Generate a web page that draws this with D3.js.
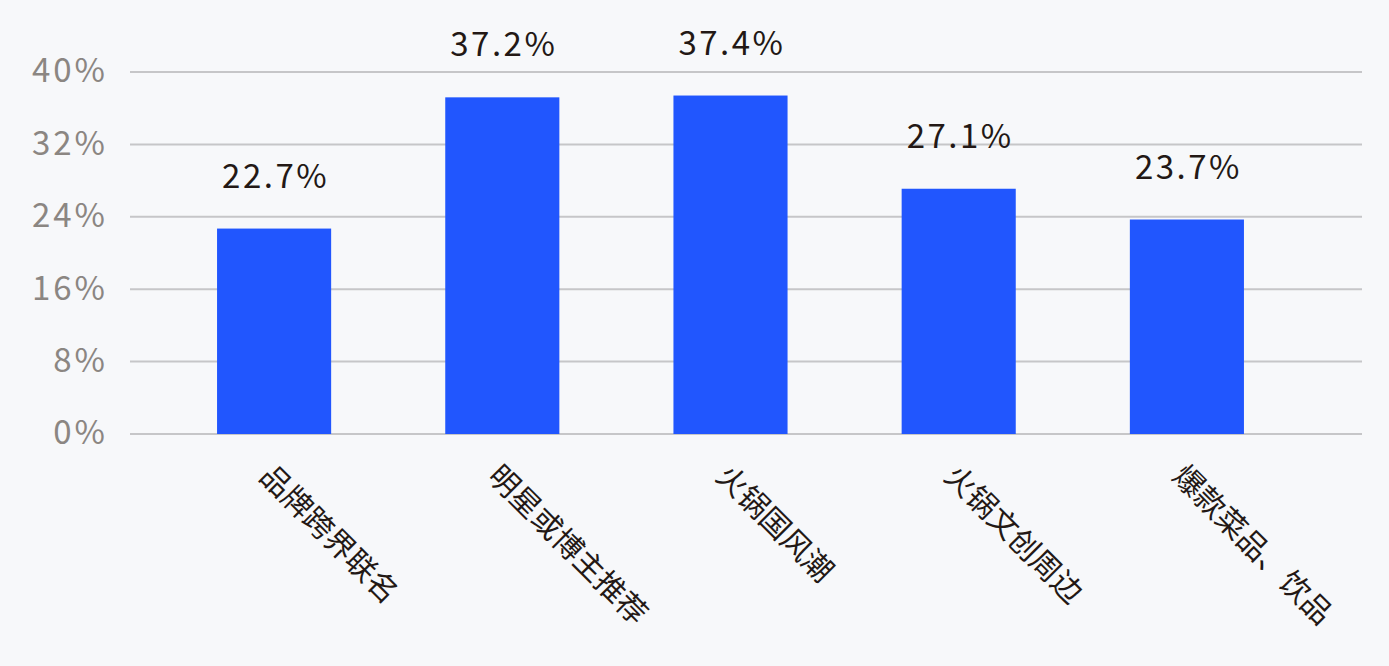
<!DOCTYPE html>
<html>
<head>
<meta charset="utf-8">
<script src="https://cdn.jsdelivr.net/npm/d3@7"></script>
<style>
  html, body { margin: 0; padding: 0; background: #f7f8fa; }
  svg { display: block; font-family: "Noto Sans CJK SC", "Noto Sans", sans-serif; }
</style>
</head>
<body>
<div id="chart"></div>
<script>
// ── Data ──
const categories = ['品牌跨界联名', '明星或博主推荐', '火锅国风潮', '火锅文创周边', '爆款菜品、饮品'];
const values = [22.7, 37.2, 37.4, 27.1, 23.7];
const yTicks = [0, 8, 16, 24, 32, 40];

const W = 1389, H = 666;
const gridLeft = 130, gridRight = 1362;
const plotTop = 72, plotBottom = 434;

const svg = d3.select('#chart').append('svg').attr('width', W).attr('height', H);
svg.append('rect').attr('width', W).attr('height', H).attr('fill', '#f7f8fa');

const x = d3.scaleBand().domain(categories).range([160, 1301]).paddingInner(0.5).paddingOuter(0.25);
const y = d3.scaleLinear().domain([0, 40]).range([plotBottom, plotTop]);

// ── Grid lines ──
svg.append('g').selectAll('line').data(yTicks).join('line')
  .attr('x1', gridLeft).attr('x2', gridRight)
  .attr('y1', d => y(d)).attr('y2', d => y(d))
  .attr('stroke', '#c6c6c8').attr('stroke-width', 2);

// ── Y axis labels ──
const yAxis = d3.axisLeft(y).tickValues(yTicks).tickFormat(d => d + '%').tickSize(0).tickPadding(0);
const ya = svg.append('g').attr('transform', 'translate(108,0)').call(yAxis);
ya.select('.domain').remove();
ya.selectAll('text')
  .attr('font-size', 33).attr('fill', '#8b8682')
  .attr('font-family', '"Noto Sans CJK SC", sans-serif')
  .attr('letter-spacing', 3)
  .attr('dy', '0.3em');

// ── Bars ──
svg.append('g').selectAll('rect').data(values).join('rect')
  .attr('x', (d, i) => x(categories[i]))
  .attr('y', d => y(d))
  .attr('width', x.bandwidth())
  .attr('height', d => plotBottom - y(d))
  .attr('fill', '#2156fe');

// ── Value labels ──
svg.append('g').selectAll('text').data(values).join('text')
  .attr('x', (d, i) => x(categories[i]) + x.bandwidth() / 2 + 1.5)
  .attr('y', d => y(d) - 41)
  .attr('text-anchor', 'middle')
  .attr('font-size', 33).attr('letter-spacing', 2.5).attr('fill', '#231815')
  .text(d => d.toFixed(1) + '%');

// ── Category labels (rotated 45°) ──
svg.append('g').selectAll('text').data(categories).join('text')
  .attr('transform', d => `translate(${x(d) + x.bandwidth() / 2 - 16},${plotBottom + 44}) rotate(45)`)
  .attr('text-anchor', 'start')
  .attr('font-size', 30).attr('fill', '#231815')
  .text(d => d);
</script>
</body>
</html>
